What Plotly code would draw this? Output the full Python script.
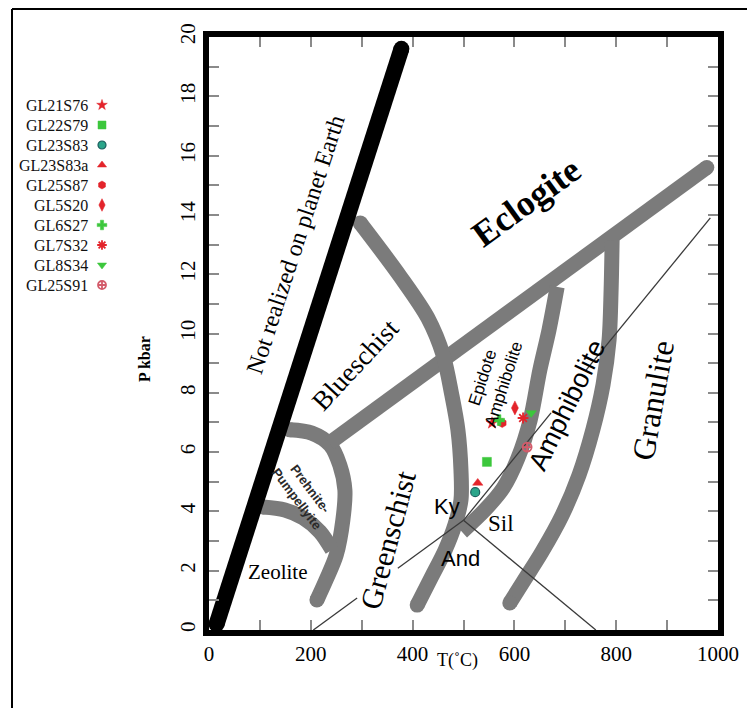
import plotly.graph_objects as go

# ---------------- data ----------------
samples = ["GL21S76", "GL22S79", "GL23S83", "GL23S83a", "GL25S87",
           "GL5S20", "GL6S27", "GL7S32", "GL8S34", "GL25S91"]
sample_T = [556, 546, 523, 528, 576, 601, 570, 617, 633, 625]
sample_P = [6.98, 5.67, 4.65, 4.96, 6.98, 7.49, 7.08, 7.15, 7.32, 6.17]
sample_symbol = ["star", "square", "circle", "triangle-up", "hexagon",
                 "diamond-tall", "cross", "asterisk-open", "triangle-down",
                 "circle-cross-open"]
sample_color = ["#e3242b", "#3cc73c", "#2aa58a", "#e3242b", "#e3242b",
                "#e3242b", "#3cc73c", "#e3242b", "#3cc73c", "#d35b6a"]

x_ticks = list(range(0, 1001, 100))
x_ticktext = [str(v) if v % 200 == 0 else "" for v in x_ticks]
y_ticks = list(range(0, 21))
y_ticktext = [str(v) if v % 2 == 0 else "" for v in y_ticks]

# facies boundaries (T in deg C, P in kbar)
earth_T = [15, 378]
earth_P = [0.2, 19.6]
eclogite_T = [236, 978]
eclogite_P = [6.3, 15.6]
pp_outer_T = [159, 202, 238, 257, 267, 263, 250, 230, 212]
pp_outer_P = [6.75, 6.64, 6.24, 5.56, 4.72, 3.71, 2.53, 1.69, 1.01]
pp_inner_T = [106, 149, 185, 218, 242]
pp_inner_P = [4.15, 4.05, 3.78, 3.31, 2.70]
blueschist_T = [297, 375, 430, 460, 477, 489, 495, 495, 483, 464, 436, 409]
blueschist_P = [13.73, 11.94, 10.52, 9.27, 7.93, 6.75, 5.40, 4.38, 3.54, 2.70, 1.75, 0.84]
epamph_T = [684, 668, 650, 631, 607, 578, 542, 497]
epamph_P = [11.57, 10.12, 8.77, 7.08, 5.80, 4.79, 4.05, 3.31]
granulite_T = [792, 790, 786, 774, 754, 727, 694, 654, 617, 591]
granulite_P = [13.15, 11.47, 9.78, 8.26, 6.75, 5.23, 3.88, 2.63, 1.62, 0.91]

# Al2SiO5 reactions (drawn with the gaps left by the labels)
ky_and_T = [205, 291, None, 371, 500]
ky_and_P = [0.0, 1.08, None, 2.08, 3.7]
ky_sil_T = [500, 672, None, 740, 985]
ky_sil_P = [3.7, 7.32, None, 8.75, 13.9]
and_sil_T = [500, 760]
and_sil_P = [3.7, 0.0]

# field labels: text, T, P, angle, font family, size, bold
field_labels = [
    ("Not realized on planet Earth", 169, 13.0, -72, "serif", 24, False),
    ("Eclogite", 623, 14.45, -36, "serif", 36, True),
    ("Blueschist", 287, 8.94, -47, "serif", 27, False),
    ("Epidote<br>Amphibolite", 559, 8.4, -72, "sans", 17, False),
    ("Amphibolite", 703, 7.6, -64, "sans", 27, False),
    ("Granulite", 872, 7.76, -80, "serif", 32, False),
    ("Greenschist", 352, 3.04, -75, "serif", 30, False),
    ("Prehnite-<br>Pumpellyite", 186, 4.59, 53, "sans", 13, True),
    ("Zeolite", 134, 1.96, 0, "serif", 21, False),
    ("Ky", 468, 4.18, 0, "sans", 22, False),
    ("Sil", 574, 3.6, 0, "serif", 23, False),
    ("And", 495, 2.4, 0, "sans", 22, False),
]

# ---------------- figure ----------------
W, H = 755, 708
X0, X1 = 201, 710      # plot area in figure px
Y0, Y1 = 29, 622
BAND = "#7b7b7b"
SERIF = "Liberation Serif"
SANS = "Liberation Sans"

fig = go.Figure()


def band(T, P, width=15, color=BAND, caps=(True, True)):
    fig.add_trace(go.Scatter(x=T, y=P, mode="lines",
                             line=dict(color=color, width=width,
                                       shape="spline", smoothing=0.9),
                             hoverinfo="skip", showlegend=False))
    cT, cP = [], []
    if caps[0]:
        cT.append(T[0]); cP.append(P[0])
    if caps[1]:
        cT.append(T[-1]); cP.append(P[-1])
    if cT:
        fig.add_trace(go.Scatter(x=cT, y=cP, mode="markers",
                                 marker=dict(size=width, color=color,
                                             line=dict(width=0)),
                                 hoverinfo="skip", showlegend=False))


def thin(T, P):
    fig.add_trace(go.Scatter(x=T, y=P, mode="lines", connectgaps=False,
                             line=dict(color="#3a3a3a", width=1.3),
                             hoverinfo="skip", showlegend=False))


band(pp_outer_T, pp_outer_P)
band(pp_inner_T, pp_inner_P, caps=(True, False))
band(eclogite_T, eclogite_P, caps=(False, True))
band(blueschist_T, blueschist_P)
band(epamph_T, epamph_P, caps=(False, False))
band(granulite_T, granulite_P, caps=(False, True))
band(earth_T, earth_P, width=16, color="#000000")

thin(ky_and_T, ky_and_P)
thin(ky_sil_T, ky_sil_P)
thin(and_sil_T, and_sil_P)


def marker_style(i, size):
    sym = sample_symbol[i]
    open_sym = sym.endswith("open")
    if open_sym:
        lc, lw = sample_color[i], 1.8
    elif sym == "circle":
        lc, lw = "#1d5f5f", 1.2
    else:
        lc, lw = sample_color[i], 0.5
    return dict(symbol=sym, size=size + (1 if sym == "diamond-tall" else 0),
                color=sample_color[i], line=dict(width=lw, color=lc))


for i, name in enumerate(samples):
    fig.add_trace(go.Scatter(
        x=[sample_T[i]], y=[sample_P[i]], mode="markers", name=name,
        marker=marker_style(i, 9), showlegend=False))

# custom legend (marker right of the text) on a helper axis
LEG_X_MARK, LEG_X_TEXT = 94, 82
for i, name in enumerate(samples):
    fig.add_trace(go.Scatter(
        x=[LEG_X_MARK], y=[i], xaxis="x2", yaxis="y2", mode="markers",
        marker=marker_style(i, 8), hoverinfo="skip", showlegend=False))

annotations = []
for i, name in enumerate(samples):
    annotations.append(dict(x=LEG_X_TEXT, y=i, xref="x2", yref="y2", text=name,
                            showarrow=False, xanchor="right", yanchor="middle",
                            font=dict(family=SERIF, size=16, color="#111")))

for text, T, P, ang, fam, size, bold in field_labels:
    t = f"<b>{text}</b>" if bold else text
    annotations.append(dict(
        x=T, y=P, xref="x", yref="y", text=t, showarrow=False,
        textangle=ang, xanchor="center", yanchor="middle",
        font=dict(family=SERIF if fam == "serif" else SANS, size=size,
                  color="#2a2a2a" if fam == "sans" and size < 14 else "#000")))

# axis titles
annotations.append(dict(x=449 / W, y=(H - 652) / H, xref="paper", yref="paper",
                        text="T(˚C)", showarrow=False, xanchor="center",
                        yanchor="middle",
                        font=dict(family=SERIF, size=18, color="#000")))
annotations.append(dict(x=136 / W, y=(H - 351) / H, xref="paper", yref="paper",
                        text="<b>P kbar</b>", showarrow=False, textangle=-90,
                        xanchor="center", yanchor="middle",
                        font=dict(family=SERIF, size=16, color="#000")))

# outer frame of the figure
shapes = [
    dict(type="line", xref="paper", yref="paper", x0=4 / W, x1=4 / W,
         y0=0, y1=(H - 1) / H, line=dict(color="#000", width=2)),
    dict(type="line", xref="paper", yref="paper", x0=4 / W, x1=1,
         y0=(H - 1) / H, y1=(H - 1) / H, line=dict(color="#000", width=2)),
]

tickfont = dict(family=SERIF, size=21, color="#000")
n = len(samples)
fig.update_layout(
    width=W, height=H, margin=dict(l=0, r=0, t=0, b=0),
    paper_bgcolor="white", plot_bgcolor="white",
    showlegend=False,
    xaxis=dict(domain=[X0 / W, X1 / W], range=[0, 1000],
               tickvals=x_ticks, ticktext=x_ticktext, ticks="inside",
               ticklen=10, tickwidth=1.5, tickcolor="#8a8a8a",
               showline=True, linewidth=6, linecolor="#000", mirror="allticks",
               showgrid=False, zeroline=False, tickfont=tickfont,
               automargin=False, anchor="y"),
    yaxis=dict(domain=[(H - Y1) / H, (H - Y0) / H], range=[0, 20],
               tickvals=y_ticks, ticktext=y_ticktext, ticks="inside",
               ticklen=10, tickwidth=1.5, tickcolor="#8a8a8a", tickangle=-90,
               showline=True, linewidth=6, linecolor="#000", mirror="allticks",
               showgrid=False, zeroline=False, tickfont=tickfont,
               automargin=False, anchor="x"),
    xaxis2=dict(domain=[0, 151 / W], range=[0, 151], visible=False,
                anchor="y2"),
    yaxis2=dict(domain=[(H - 287) / H, (H - 87) / H], range=[n - 0.5, -0.5],
                visible=False, anchor="x2"),
    annotations=annotations, shapes=shapes,
)

fig.write_html("out.html")
